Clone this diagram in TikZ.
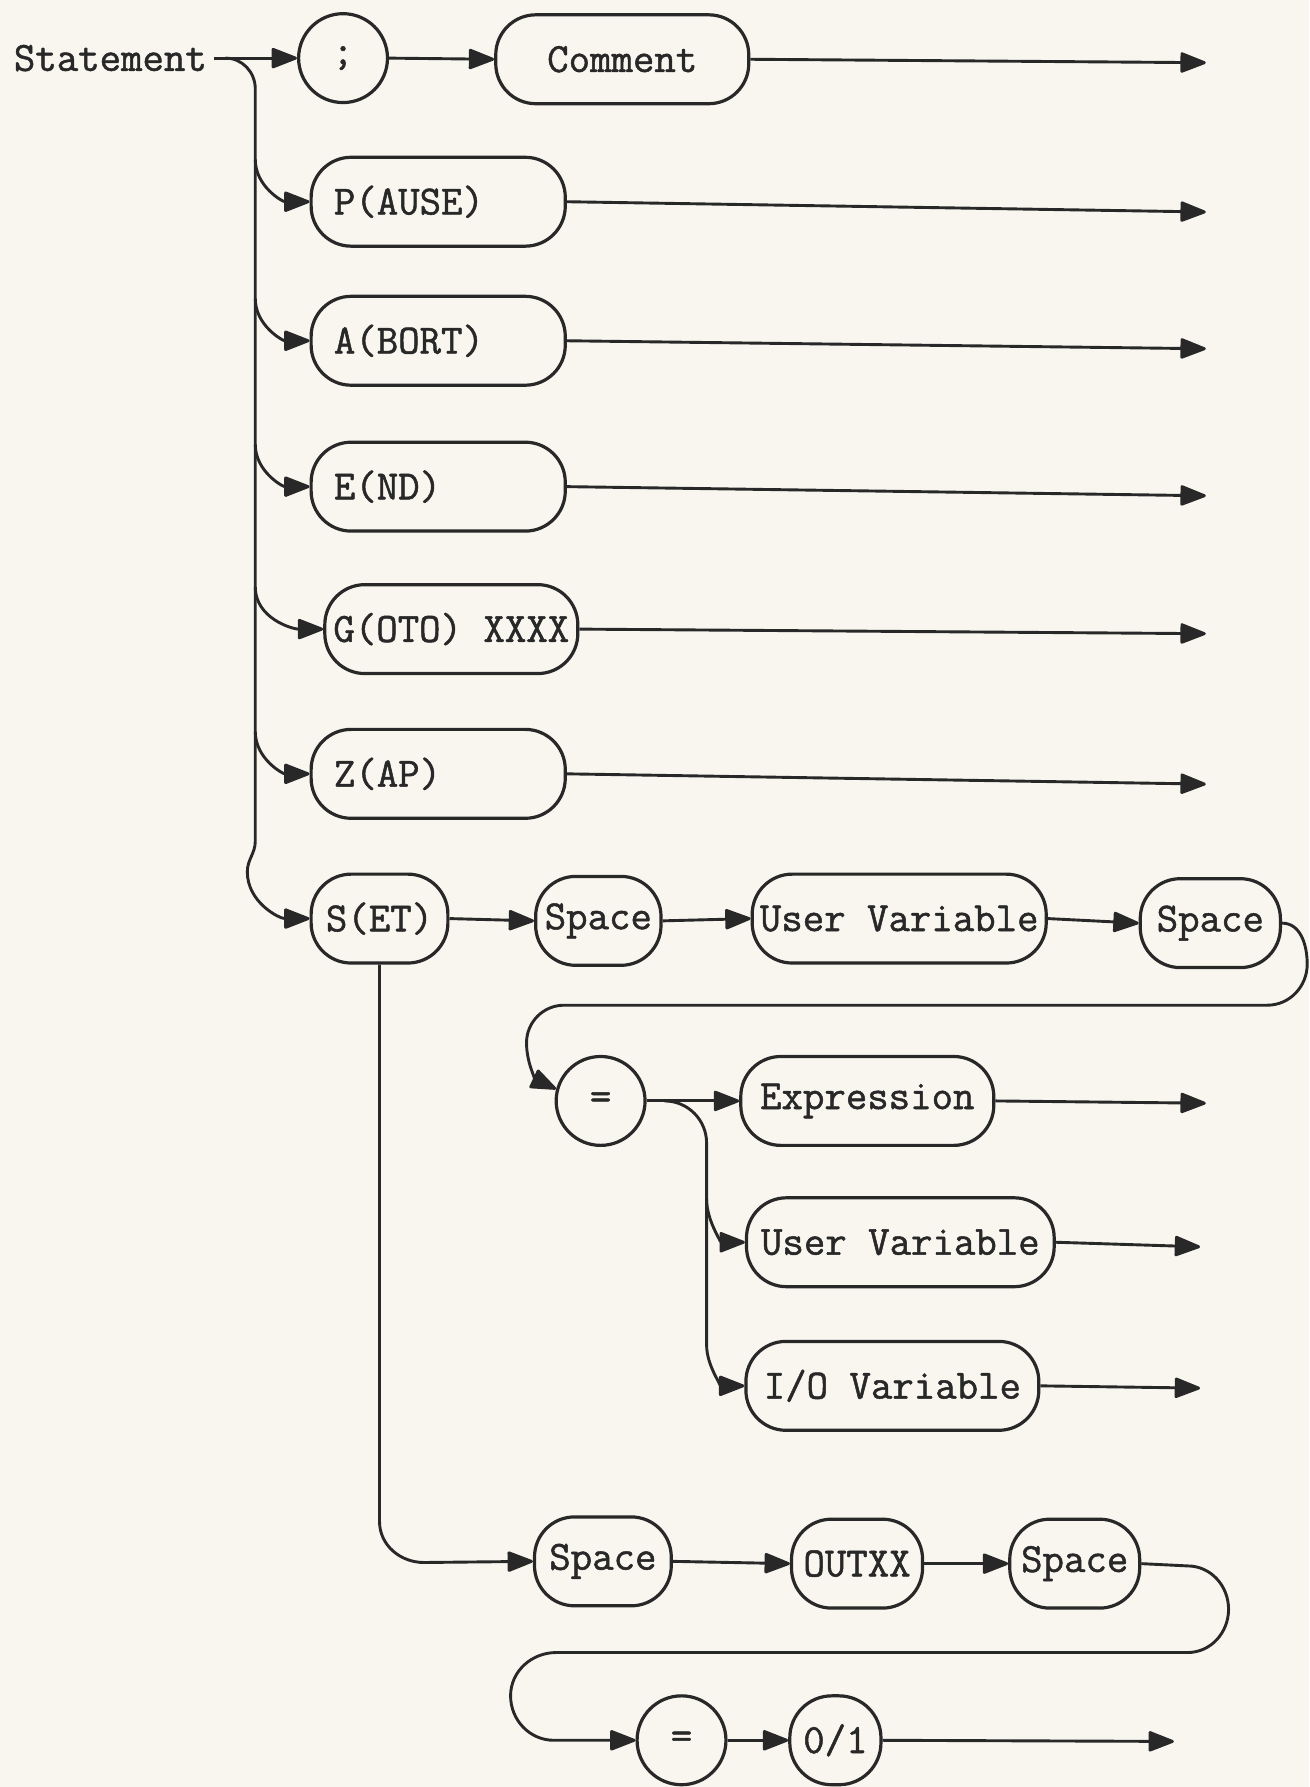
\documentclass[tikz,border=0pt]{standalone}
\usepackage{fontspec}
\usetikzlibrary{arrows.meta}
\definecolor{paper}{RGB}{248,246,238}
\definecolor{ink}{RGB}{40,40,40}
\newfontfamily\typefont{Latin Modern Mono}[FakeBold=1.2]
\def\uu{0.5696pt}
\begin{document}
\begin{tikzpicture}[
  x=0.5696pt, y=-0.5696pt,
  color=ink, line width=1.45pt,
  every node/.style={font=\typefont\fontsize{20.8}{24}\selectfont, text=ink},
  box/.style={draw, line width=1.6pt, rounded corners=20pt, minimum height=78*\uu, inner xsep=3pt, inner ysep=0pt},
  lbox/.style={box, text width=183*\uu, align=left, inner xsep=20*\uu},
  circ/.style={draw, line width=1.6pt, circle, minimum size=78*\uu, inner sep=0pt},
  arr/.style={-{Triangle[length=14pt,width=10.5pt,round]}}
]
% page
\fill[paper] (0,0) rectangle (1149,1568);
\useasboundingbox (0,0) rectangle (1149,1568);

% entry label and the first row
\node[anchor=east, inner xsep=3pt] (stmt) at (188,51) {Statement};
\node[circ] (semi) at (301,51) {;};
\node[box, minimum width=222*\uu] (comment) at (546,52) {Comment};

% single-keyword statements
\node[lbox] (pause) at (384.5,177) {P(AUSE)};
\node[lbox] (abort) at (384.5,299) {A(BORT)};
\node[lbox] (end)   at (384.5,427) {E(ND)};
\node[box, minimum width=222*\uu] (goto) at (396,552) {G(OTO) XXXX};
\node[lbox] (zap)   at (384.5,679) {Z(AP)};

% SET statement, first form
\node[box, minimum width=120*\uu] (set) at (333,806) {S(ET)};
\node[box, minimum width=110*\uu] (sp1) at (525,808) {Space};
\node[box, minimum width=258*\uu] (uv1) at (789,806) {User Variable};
\node[box, minimum width=123*\uu] (sp2) at (1062,810) {Space};
\node[circ] (eq1) at (527,966) {=};
\node[box, minimum width=222*\uu] (expr) at (761,966) {Expression};
\node[box, minimum width=270*\uu] (uv2) at (790,1090) {User Variable};
\node[box, minimum width=257*\uu] (iov) at (783,1216) {I/O Variable};

% SET statement, output form
\node[box, minimum width=120*\uu] (sp3) at (529,1370) {Space};
\node[box, minimum width=115*\uu] (outxx) at (752,1372) {OUTXX};
\node[box, minimum width=114*\uu] (sp4) at (943,1372) {Space};
\node[circ] (eq2) at (598,1527) {=};
\node[box, minimum width=80*\uu, rounded corners=21pt] (zo) at (733,1527) {0/1};

% exits
\coordinate (o1) at (1058,55);
\coordinate (o2) at (1058,186);
\coordinate (o3) at (1058,306);
\coordinate (o4) at (1058,435);
\coordinate (o5) at (1058,556);
\coordinate (o6) at (1058,688);
\coordinate (o7) at (1058,968);
\coordinate (o8) at (1053,1094);
\coordinate (o9) at (1053,1218);
\coordinate (o10) at (1030,1528);

% trunk
\coordinate (split) at (198,51);
\draw[arr] (stmt.east) -- (semi.west);
\draw (split) to[out=0,in=90] (224,78) -- (224,738) to[out=-90,in=90] (217,765);
\draw[arr] (217,765) to[out=-90,in=180] (set.west);
\draw[arr] (224,140) to[out=-90,in=180] (pause.west);
\draw[arr] (224,262) to[out=-90,in=180] (abort.west);
\draw[arr] (224,390) to[out=-90,in=180] (end.west);
\draw[arr] (224,515) to[out=-90,in=180] (goto.west);
\draw[arr] (224,642) to[out=-90,in=180] (zap.west);

% first row
\draw[arr] (semi.east) -- (comment.west);
\draw[arr] (comment.east) -- (o1);
\draw[arr] (pause.east) -- (o2);
\draw[arr] (abort.east) -- (o3);
\draw[arr] (end.east) -- (o4);
\draw[arr] (goto.east) -- (o5);
\draw[arr] (zap.east) -- (o6);

% SET, first form
\draw[arr] (set.east) -- (sp1.west);
\draw[arr] (sp1.east) -- (uv1.west);
\draw[arr] (uv1.east) -- (sp2.west);
\draw[arr] (sp2.east) to[out=0,in=90] (1147,846) to[out=-90,in=0] (1112,882)
  -- (495,882) to[out=180,in=90] (462,915) to[out=-90,in=155] (eq1.165);
\coordinate (bsplit) at (583,966);
\draw[arr] (eq1.east) -- (expr.west);
\draw (bsplit) to[out=0,in=90] (620,1003) -- (620,1180);
\draw[arr] (620,1180) to[out=-90,in=180] (iov.west);
\draw[arr] (620,1052) to[out=-90,in=180] (uv2.west);
\draw[arr] (expr.east) -- (o7);
\draw[arr] (uv2.east) -- (o8);
\draw[arr] (iov.east) -- (o9);

% SET, output form
\draw[arr] (set.south) -- (333,1335) to[out=-90,in=180] (372,1371) -- (sp3.west);
\draw[arr] (sp3.east) -- (outxx.west);
\draw[arr] (outxx.east) -- (sp4.west);
\draw[arr] (sp4.east) -- (1042,1374) to[out=0,in=90] (1078,1412) to[out=-90,in=0] (1042,1450)
  -- (488,1450) to[out=180,in=90] (448,1488) to[out=-90,in=180] (486,1527) -- (eq2.west);
\draw[arr] (eq2.east) -- (zo.west);
\draw[arr] (zo.east) -- (o10);
\end{tikzpicture}
\end{document}
